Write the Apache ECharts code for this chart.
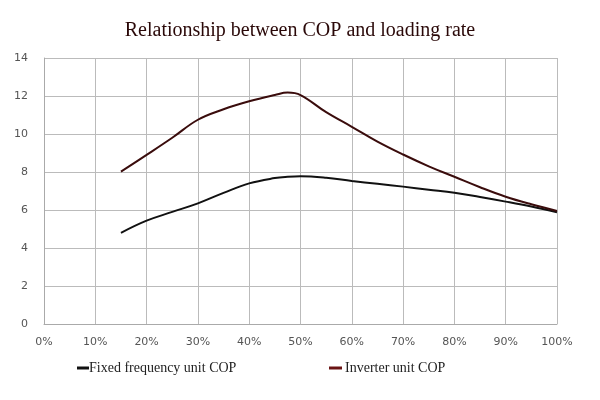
<!DOCTYPE html>
<html><head><meta charset="utf-8">
<script src="https://cdn.jsdelivr.net/npm/echarts@6/dist/echarts.min.js"></script>
<style>html,body{margin:0;padding:0;background:#fff}#c{width:600px;height:400px}</style>
</head><body><div id="c"></div>
<script>
const titleText = 'Relationship between COP and loading rate';
const loadRate = [15, 20, 25, 30, 35, 40, 45, 47.5, 50, 55, 60, 65, 70, 75, 80, 85, 90, 95, 100];
const fixedCOP = [4.8, 5.44, 5.9, 6.35, 6.9, 7.4, 7.68, 7.75, 7.78, 7.7, 7.53, 7.38, 7.23, 7.07, 6.91, 6.68, 6.44, 6.18, 5.88];
const inverterCOP = [8.02, 8.9, 9.8, 10.75, 11.3, 11.72, 12.05, 12.18, 12.05, 11.15, 10.38, 9.6, 8.92, 8.3, 7.75, 7.2, 6.7, 6.3, 5.95];
const seriesNames = ['Fixed frequency unit COP', 'Inverter unit COP'];

const chart = echarts.init(document.getElementById('c'));
const pair = (xs, ys) => xs.map((x, i) => [x, ys[i]]);
chart.setOption({
  animation: false,
  title: {text: titleText, left: 'center', top: 16,
    textStyle: {fontFamily: 'Liberation Serif', fontWeight: 'normal', fontSize: 20, color: '#2a0808'}},
  legend: [
    {data: [seriesNames[0]], left: 72, top: 356, icon: 'rect', itemWidth: 12, itemHeight: 3,
     textStyle: {fontFamily: 'Liberation Serif', fontSize: 14, color: '#222', padding: [0,0,0,-5]}},
    {data: [seriesNames[1]], left: 324, top: 356, icon: 'rect', itemWidth: 13, itemHeight: 3,
     textStyle: {fontFamily: 'Liberation Serif', fontSize: 14, color: '#222', padding: [0,0,0,-2]}}
  ],
  grid: {left: 44, right: 43, top: 58, bottom: 76},
  xAxis: {type: 'value', min: 0, max: 100, interval: 10,
    axisLabel: {formatter: '{value}%', color: '#555', fontSize: 11, fontFamily: 'DejaVu Sans', margin: 13},
    axisLine: {show: true, lineStyle: {color: '#aaa'}}, axisTick: {show: false},
    splitLine: {show: true, lineStyle: {color: '#bbb'}}},
  yAxis: {type: 'value', min: 0, max: 14, interval: 2,
    axisLabel: {color: '#555', fontSize: 11, fontFamily: 'DejaVu Sans', margin: 16},
    axisLine: {show: true, lineStyle: {color: '#aaa'}}, axisTick: {show: false},
    splitLine: {show: true, lineStyle: {color: '#bbb'}}},
  series: [
    {name: seriesNames[0], type: 'line', smooth: 0.4, showSymbol: false, data: pair(loadRate, fixedCOP),
     lineStyle: {color: '#111', width: 2}, itemStyle: {color: '#111'}},
    {name: seriesNames[1], type: 'line', smooth: 0.4, showSymbol: false, data: pair(loadRate, inverterCOP),
     lineStyle: {color: '#3a0c0c', width: 2}, itemStyle: {color: '#6a1414'}}
  ]
});
</script></body></html>
